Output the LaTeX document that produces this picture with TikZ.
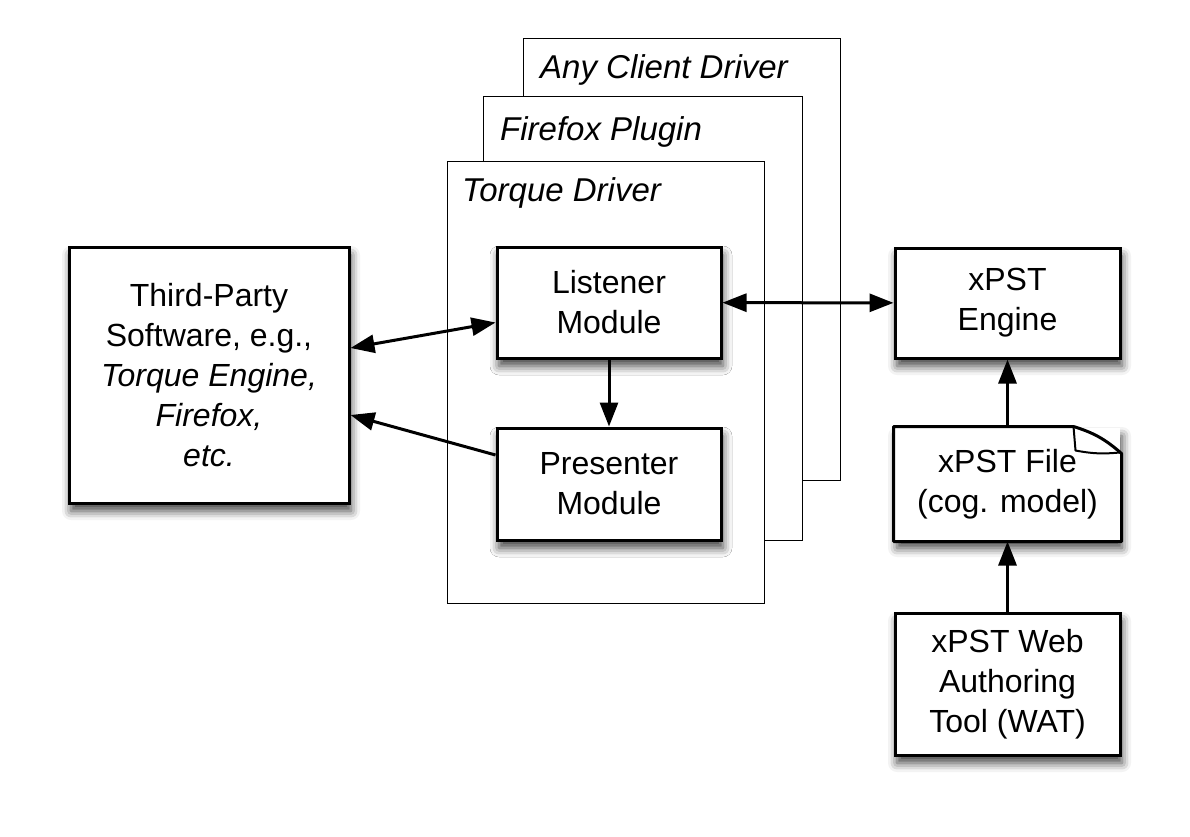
\documentclass[tikz,border=0pt]{standalone}
\usepackage{fontspec}
\setmainfont{Liberation Sans}
\usetikzlibrary{arrows.meta, shadows.blur}
\tikzstyle{frame}=[shape=rectangle,draw=black,fill=white,line width=1pt]
\tikzstyle{framelabel}=[anchor=west,inner sep=0pt,font=\fontsize{33}{40}\selectfont\itshape]
\tikzstyle{module}=[shape=rectangle,draw=black,fill=white,line width=3pt,align=center,blur shadow={shadow xshift=2pt,shadow yshift=-8pt,shadow blur radius=9pt,shadow opacity=75}]
\tikzstyle{doc}=[module,draw=none]
\tikzstyle{l}=[draw,line width=3pt,-{Triangle[length=24pt,width=18pt]}]
\tikzstyle{ll}=[draw,line width=3pt,{Triangle[length=24pt,width=18pt]}-{Triangle[length=24pt,width=18pt]}]

\begin{document}
\begin{tikzpicture}[x=1pt,y=-1pt,font=\fontsize{32}{40}\selectfont]
\useasboundingbox (0,0) rectangle (1190,836);

% client drivers
\node[frame, minimum width=317pt, minimum height=442pt] (any) at (681.5,259) {};
\node[framelabel] (anylbl) at (540,70) {Any Client Driver};
\node[frame, minimum width=319pt, minimum height=444pt] (ff) at (642.5,318) {};
\node[framelabel] (fflbl) at (500,132) {Firefox Plugin};
\node[frame, minimum width=317pt, minimum height=442pt] (torque) at (605.5,382) {};
\node[framelabel] (torquelbl) at (462,193) {Torque Driver};

% modules
\node[module, minimum width=224pt, minimum height=111pt] (listener) at (609,302.5) {Listener\\Module};
\node[module, minimum width=224pt, minimum height=112pt] (presenter) at (609,484) {Presenter\\Module};

% third party
\node[module, minimum width=280pt, minimum height=256pt] (third) at (209,375)
  {Third-Party\\Software, e.g.,\\\textit{Torque Engine,}\\\textit{Firefox,}\\\textit{etc.}};

% xpst
\node[module, minimum width=225pt, minimum height=110pt] (engine) at (1007.5,303) {xPST\\Engine};
\node[doc, minimum width=225pt, minimum height=112pt] (file) at (1007.5,484) {xPST File\\(cog. model)};
\draw[line width=3pt, line join=round] (file.north west) -- ([xshift=-48pt]file.north east)
  to[bend left=12] ([yshift=-27pt]file.north east) -- (file.south east) -- (file.south west) -- cycle;
\draw[line width=2pt, line join=round] ([xshift=-48pt]file.north east) -- ([xshift=-46pt,yshift=-24pt]file.north east)
  to[bend right=8] ([xshift=-2pt,yshift=-26pt]file.north east);
\node[module, minimum width=225pt, minimum height=142pt] (wat) at (1007.5,684) {xPST Web\\Authoring\\Tool (WAT)};

%paths
\path [ll] ([yshift=27pt]third.east) -- ([yshift=-20pt]listener.west);
\path [l] ([yshift=29pt]presenter.west) -- ([yshift=-40pt]third.east);
\path [ll] (listener) -- (engine);
\path [l] (listener) -- (presenter);
\path [l] (file) -- (engine);
\path [l] (wat) -- (file);

\end{tikzpicture}
\end{document}
